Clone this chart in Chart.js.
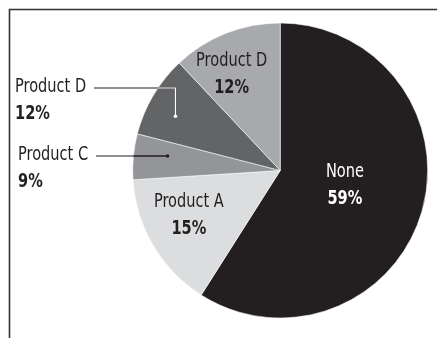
<!DOCTYPE html>
<html><head><meta charset="utf-8">
<script src="https://cdn.jsdelivr.net/npm/chart.js@4"></script>
<style>html,body{margin:0;padding:0;background:#fff;overflow:hidden}#wrap{width:437px;height:338px;position:relative}</style>
</head><body><div id="wrap"><canvas id="c" width="437" height="338"></canvas></div>
<script>
// ---- data ----
const categories = ["None", "Product A", "Product C", "Product D", "Product D"];
const values = [59, 15, 5, 9, 12];               // slice sizes as drawn
const percentLabels = ["59%", "15%", "9%", "12%", "12%"]; // printed labels
const colors = ["#231f20", "#dcddde", "#939598", "#636466", "#a7a9ac"];

// ---- label layout (style only) ----
const FONT_FAMILY = '"DejaVu Sans Condensed", "DejaVu Sans", sans-serif';
const SX = 0.81; // horizontal squeeze to mimic a condensed face
const INK = "#231f20";
const insideLabels = {
  0: {frac: 0.45, shift: -3.4, color: "#ffffff"},
  1: {frac: 0.69, shift: 4.4, color: INK},
  4: {frac: 0.73, shift: -5.2, color: INK}
};
const outsideLabels = {
  2: {frac: 0.77, shift: 1.9, tx: 18, ty: 155, inner: INK, dot: INK},
  3: {frac: 0.80, shift: -3.2, tx: 15, ty: 87, inner: "#ffffff", dot: "#ffffff"}
};

function drawText(ctx, text, x, y, align, bold, color) {
  ctx.save();
  ctx.font = (bold ? "bold " : "") + "20px " + FONT_FAMILY;
  ctx.fillStyle = color;
  ctx.textAlign = align;
  ctx.textBaseline = "middle";
  ctx.translate(x, y);
  ctx.scale(SX, 1);
  ctx.fillText(text, 0, 0);
  const w = ctx.measureText(text).width * SX;
  ctx.restore();
  return w;
}

const framePlugin = {
  id: "frame",
  beforeDraw(chart) {
    const ctx = chart.ctx;
    ctx.save();
    ctx.fillStyle = "#fff";
    ctx.fillRect(0, 0, chart.width, chart.height);
    ctx.strokeStyle = "#333333";
    ctx.lineWidth = 1.6;
    ctx.beginPath();
    ctx.moveTo(9.5, chart.height);
    ctx.lineTo(9.5, 9.5);
    ctx.lineTo(chart.width, 9.5);
    ctx.stroke();
    ctx.restore();
  }
};

const labelPlugin = {
  id: "sliceLabels",
  afterDatasetsDraw(chart) {
    const ctx = chart.ctx;
    const meta = chart.getDatasetMeta(0);
    const gap = 13.5;
    meta.data.forEach((arc, i) => {
      const p = arc.getProps(["x", "y", "startAngle", "endAngle", "outerRadius"], true);
      const mid = (p.startAngle + p.endAngle) / 2;
      if (insideLabels[i]) {
        const L = insideLabels[i];
        const a = mid + L.shift * Math.PI / 180;
        const cx = p.x + Math.cos(a) * p.outerRadius * L.frac;
        const cy = p.y + Math.sin(a) * p.outerRadius * L.frac;
        drawText(ctx, categories[i], cx, cy - gap, "center", false, L.color);
        drawText(ctx, percentLabels[i], cx, cy + gap, "center", true, L.color);
      }
      if (outsideLabels[i]) {
        const L = outsideLabels[i];
        const a = mid + L.shift * Math.PI / 180;
        const dx = p.x + Math.cos(a) * p.outerRadius * L.frac;
        const dy = p.y + Math.sin(a) * p.outerRadius * L.frac;
        const w = drawText(ctx, categories[i], L.tx, L.ty, "left", false, INK);
        drawText(ctx, percentLabels[i], L.tx, L.ty + 2 * gap, "left", true, INK);
        const ly = L.ty + 1;
        const path = () => {
          ctx.beginPath();
          ctx.moveTo(L.tx + w + 8, ly);
          ctx.lineTo(dx, ly);
          ctx.lineTo(dx, dy);
        };
        ctx.save();
        ctx.lineWidth = 1.2;
        ctx.strokeStyle = INK;
        path(); ctx.stroke();
        ctx.save();
        ctx.beginPath();
        ctx.arc(p.x, p.y, p.outerRadius, 0, Math.PI * 2);
        ctx.clip();
        ctx.strokeStyle = L.inner;
        path(); ctx.stroke();
        ctx.restore();
        ctx.fillStyle = L.dot;
        ctx.beginPath();
        ctx.arc(dx, dy, 1.8, 0, Math.PI * 2);
        ctx.fill();
        ctx.restore();
      }
    });
  }
};

new Chart(document.getElementById("c"), {
  type: "pie",
  data: {
    labels: categories,
    datasets: [{
      data: values,
      backgroundColor: colors,
      borderColor: "rgba(255,255,255,0.55)",
      borderWidth: 1
    }]
  },
  options: {
    responsive: false,
    devicePixelRatio: 1,
    animation: false,
    layout: {padding: {left: 132.2, right: 8.8, top: 22.5, bottom: 19.5}},
    plugins: {legend: {display: false}, tooltip: {enabled: false}}
  },
  plugins: [framePlugin, labelPlugin]
});
</script>
</body></html>
